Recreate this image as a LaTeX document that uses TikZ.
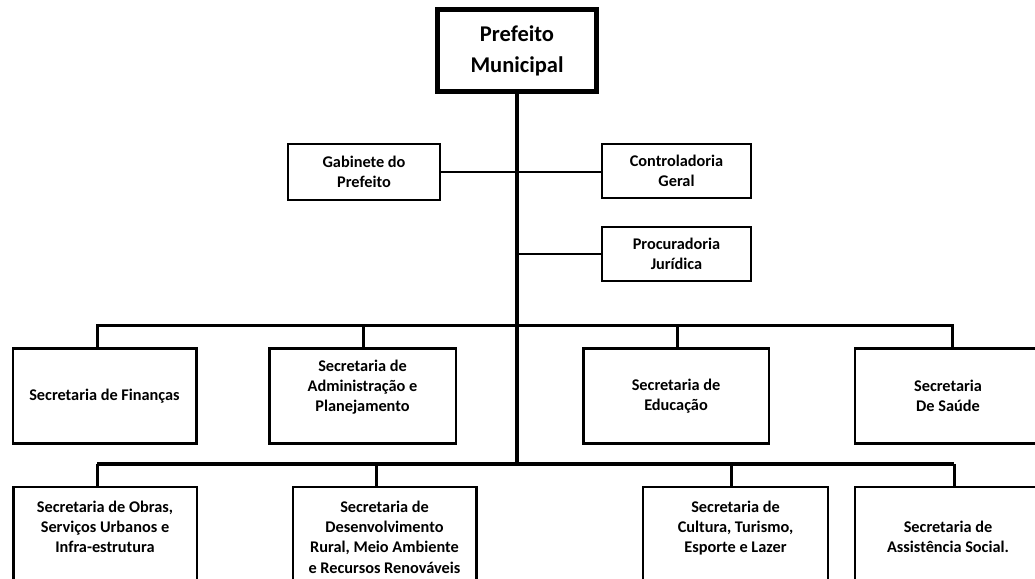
\documentclass[tikz,border=0pt]{standalone}
\usepackage{fontspec}
\setmainfont{Carlito}
\begin{document}
\begin{tikzpicture}[x=1pt,y=-1pt,
  box/.style={draw,line width=2.5pt,align=center,inner sep=0pt,
    font=\bfseries\fontsize{16.3}{20.3}\selectfont},
  smallbox/.style={box,line width=2pt},
  bigbox/.style={draw,line width=5pt,align=center,inner sep=0pt,
    font=\bfseries\fontsize{22.5}{31}\selectfont},
  trunk/.style={line width=4pt},
  thinlink/.style={line width=1.5pt},
  link/.style={line width=2.5pt},
  topbar/.style={line width=3pt},
  botbar/.style={line width=4.5pt}]
\useasboundingbox (0,0) rectangle (1035,578);
\clip (0,0) rectangle (1035,578);
\fill[white] (0,0) rectangle (1035,578);

% top
\node[bigbox,minimum width=159pt,minimum height=82pt] (pm) at (517,50.5) {Prefeito\\Municipal};

% staff
\node[smallbox,minimum width=152pt,minimum height=56pt] (gab) at (364,172) {Gabinete do\\Prefeito};
\node[smallbox,minimum width=149pt,minimum height=54pt] (ctrl) at (676.5,171) {Controladoria\\Geral};
\node[smallbox,minimum width=149pt,minimum height=54pt] (proc) at (676.5,254) {Procuradoria\\Jurídica};

% first row
\node[box,minimum width=183.5pt,minimum height=95pt] (fin) at (104.5,396) {Secretaria de Finanças};
\node[box,minimum width=186.5pt,minimum height=95pt] (adm) at (362.5,396) {Secretaria de\\Administração e\\Planejamento\\[0pt]\mbox{}};
\node[box,minimum width=185.5pt,minimum height=95pt] (edu) at (676,396) {Secretaria de\\Educação};
\node[box,minimum width=186pt,minimum height=95pt] (sau) at (948,396) {Secretaria\\De Saúde};

% second row
\node[box,minimum width=183.5pt,minimum height=100pt] (obr) at (105,537) {Secretaria de Obras,\\Serviços Urbanos e\\Infra-estrutura\\[0pt]\mbox{}};
\node[box,minimum width=183.5pt,minimum height=100pt] (des) at (384.5,537) {Secretaria de\\Desenvolvimento\\Rural, Meio Ambiente\\e Recursos Renováveis};
\node[box,minimum width=185pt,minimum height=100pt] (cul) at (735.5,537) {Secretaria de\\Cultura, Turismo,\\Esporte e Lazer\\[0pt]\mbox{}};
\node[box,minimum width=186pt,minimum height=100pt] (ass) at (948,537) {Secretaria de\\Assistência Social.};

% junctions
\coordinate (t1) at (97,325);
\coordinate (t2) at (363,325);
\coordinate (t3) at (677,325);
\coordinate (t4) at (952,325);
\coordinate (b1) at (97,464);
\coordinate (b2) at (376,464);
\coordinate (b3) at (731,464);
\coordinate (b4) at (954,464);
\coordinate (tend) at (517,464);

% trunk
\draw[trunk] (pm.south) -- (tend);
% staff links
\draw[thinlink] (gab.east) -- (gab.east -| ctrl.west);
\draw[link] (proc.west -| pm.south) -- (proc.west);
% first row bar
\draw[topbar] (t1 |- fin.north) -- (t1) -- (t4) -- (t4 |- sau.north);
\draw[topbar] (t2) -- (t2 |- adm.north);
\draw[topbar] (t3) -- (t3 |- edu.north);
% second row bar
\draw[botbar] (b1) -- (b4);
\draw[topbar] (b1) -- (b1 |- obr.north);
\draw[topbar] (b2) -- (b2 |- des.north);
\draw[topbar] (b3) -- (b3 |- cul.north);
\draw[topbar] (b4) -- (b4 |- ass.north);
\end{tikzpicture}
\end{document}
